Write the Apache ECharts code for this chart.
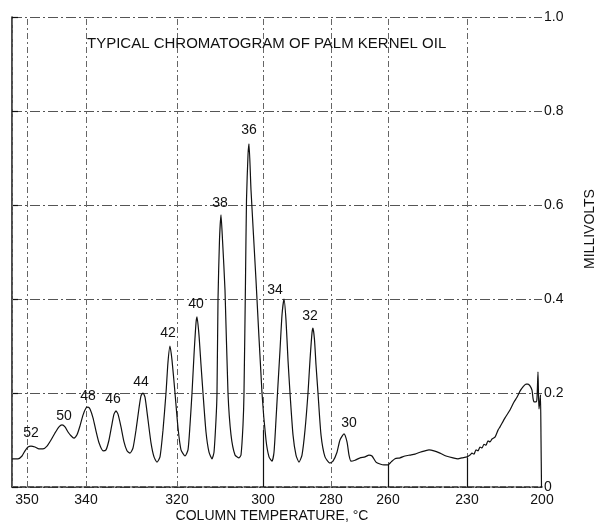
<!DOCTYPE html>
<html>
<head>
<meta charset="utf-8">
<script src="https://cdn.jsdelivr.net/npm/echarts@6/dist/echarts.min.js"></script>
<style>html,body{margin:0;padding:0;background:#fff}#c{width:596px;height:523px}</style>
</head>
<body>
<div id="c"></div>
<script>
// Chart distance (recorder trace position) of each column-temperature mark
const tempLabels = ['350', '340', '320', '300', '280', '260', '230', '200'];
const tempPositions = [15, 74, 165, 251, 319, 376, 455, 530];

// Millivolt tick labels
const yTickLabels = ['0', '0.2', '0.4', '0.6', '0.8', '1.0'];

// Detector trace: [chart distance, millivolts]
const trace = [
  [0,0.060],[6,0.060],[10,0.066],[13,0.077],[16,0.085],[19,0.087],[23,0.085],[27,0.081],[31,0.081],
  [35,0.087],[39,0.100],[43,0.115],[47,0.128],[50,0.132],[53,0.128],[56,0.117],[59,0.109],[62,0.104],
  [65,0.111],[68,0.130],[71,0.153],[74,0.168],[76,0.170],[78,0.166],[81,0.147],[84,0.119],[87,0.094],
  [91,0.077],[94,0.079],[97,0.100],[100,0.134],[102,0.155],[104,0.162],[106,0.155],[109,0.128],[112,0.096],
  [115,0.077],[118,0.072],[121,0.083],[124,0.121],[127,0.168],[129,0.194],[131,0.200],[133,0.191],[136,0.143],
  [139,0.094],[142,0.064],[145,0.053],[148,0.064],[151,0.121],[154,0.200],[156,0.266],[158,0.300],[160,0.270],
  [163,0.200],[166,0.126],[169,0.079],[173,0.066],[176,0.079],[178,0.132],[180,0.200],[182,0.281],[184,0.349],
  [185,0.362],[187,0.323],[189,0.260],[191,0.200],[194,0.117],[197,0.074],[200,0.060],[202,0.074],[204,0.143],
  [205,0.200],[206,0.398],[207.5,0.526],[209,0.579],[210.5,0.526],[213,0.419],[216,0.200],[219,0.111],[223,0.068],
  [227,0.062],[229,0.068],[231,0.132],[232,0.200],[233.5,0.440],[234.5,0.611],[236,0.706],[237,0.730],[239,0.632],
  [244,0.440],[250,0.200],[254,0.100],[257,0.064],[260,0.055],[262,0.074],[264,0.143],[265.5,0.200],[268,0.291],
  [270,0.366],[272,0.400],[274,0.355],[276,0.270],[278,0.200],[281,0.111],[284,0.068],[287,0.053],[290,0.068],
  [293,0.121],[296,0.200],[298,0.270],[300,0.328],[301,0.338],[302.5,0.313],[304,0.260],[306,0.200],[309,0.111],
  [313,0.064],[318,0.051],[321,0.055],[325,0.074],[328,0.100],[332,0.113],[335,0.096],[337,0.068],[339,0.055],
  [343,0.057],[348,0.062],[353,0.064],[357,0.068],[360,0.066],[364,0.053],[368,0.049],[372,0.047],[376,0.047],
  [379,0.053],[383,0.060],[388,0.062],[393,0.066],[398,0.068],[403,0.070],[408,0.074],[413,0.077],[417,0.079],
  [422,0.077],[428,0.072],[434,0.066],[441,0.062],[446,0.060],[450,0.062],[455,0.064],[458,0.068],[460,0.072],
  [462,0.070],[464,0.079],[466,0.077],[468,0.085],[470,0.083],[472,0.091],[474,0.089],[476,0.098],[478,0.096],
  [480,0.102],[483,0.106],[486,0.121],[488,0.128],[493,0.147],[498,0.164],[502,0.181],[505,0.191],[508,0.204],
  [511,0.213],[514,0.219],[516,0.219],[518,0.215],[520,0.206],[521,0.189],[522,0.181],[524,0.181],[525,0.189],
  [526,0.245],[526.5,0.196],[527,0.166],[528,0.185],[528.5,0.196],[529,0.104],[529.5,0]
];

// Peaks: carbon number, apex position, apex height
const peakNames = ['52', '50', '48', '46', '44', '42', '40', '38', '36', '34', '32', '30'];
const peakPos = [19, 50, 76, 104, 131, 158, 185, 209, 237, 272, 301, 332];
const peakHeight = [0.087, 0.132, 0.170, 0.162, 0.200, 0.300, 0.362, 0.579, 0.730, 0.400, 0.338, 0.113];

// Temperature event marks on the trace: position and height of mark
const eventPos = [251, 376, 455];
const eventTop = [0.121, 0.047, 0.062];

// label placement (styling, not data)
const labelOffsets = [[0,-13],[2,-9],[0,-11],[-3,-12],[-2,-11],[-2,-13],[-1,-13],[-1,-12],[0,-14],[-9,-9],[-3,-12],[5,-11]];

const FONT = 'Liberation Sans';
const INK = '#111';

const chart = echarts.init(document.getElementById('c'), null, {renderer: 'canvas'});

const gridLineStyle = {color: '#555', width: 1, type: [10, 3, 2, 3]};

const option = {
  animation: false,
  backgroundColor: '#fff',
  title: {
    text: 'TYPICAL CHROMATOGRAM OF PALM KERNEL OIL',
    left: 82, top: 31,
    textStyle: {fontSize: 15, fontWeight: 'normal', color: INK, fontFamily: FONT}
  },
  grid: {left: 12, right: 54, top: 17, bottom: 36},
  xAxis: {
    type: 'value', min: 0, max: 530,
    axisLine: {show: true, lineStyle: {color: '#222', width: 1.5, type: [6, 2]}},
    axisTick: {show: false},
    splitLine: {show: false},
    axisLabel: {
      customValues: tempPositions,
      margin: 6,
      fontSize: 14, color: INK, fontFamily: FONT,
      formatter: v => { const i = tempPositions.indexOf(v); return i >= 0 ? tempLabels[i] : ''; }
    }
  },
  yAxis: {
    type: 'value', position: 'right', min: 0, max: 1, interval: 0.2,
    axisLine: {show: true, lineStyle: {color: INK, width: 1.5}},
    axisTick: {show: true, length: 6, lineStyle: {color: INK, width: 1.2}},
    splitLine: {show: true, lineStyle: gridLineStyle},
    axisLabel: {
      margin: 2, fontSize: 14, color: INK, fontFamily: FONT,
      formatter: v => yTickLabels[Math.round(v / 0.2)]
    }
  },
  graphic: [
    {type: 'text', x: 590, y: 229, rotation: Math.PI / 2,
     style: {text: 'MILLIVOLTS', fontSize: 14, fontFamily: FONT, fill: INK, align: 'center', verticalAlign: 'middle'}},
    {type: 'text', x: 272, y: 516,
     style: {text: 'COLUMN TEMPERATURE, °C', fontSize: 14, fontFamily: FONT, fill: INK, align: 'center', verticalAlign: 'middle'}}
  ],
  series: [
    {
      type: 'line',
      data: trace,
      symbol: 'none',
      smooth: 0.2,
      lineStyle: {color: INK, width: 1.2},
      z: 5,
      markLine: {
        silent: true, symbol: 'none', label: {show: false},
        lineStyle: {color: '#666', width: 1, type: [6, 3, 2, 3]},
        data: [0].concat(tempPositions.slice(0, tempPositions.length - 1)).map(p => ({xAxis: p}))
      }
    },
    {
      type: 'line',
      data: [],
      markLine: {
        silent: true, symbol: 'none', label: {show: false},
        lineStyle: {color: INK, width: 1.2, type: 'solid'},
        data: eventPos.map((p, i) => [{coord: [p, 0]}, {coord: [p, eventTop[i]]}])
      }
    },
    {
      type: 'scatter',
      symbolSize: 0,
      z: 6,
      itemStyle: {opacity: 1},
      data: peakNames.map((n, i) => ({
        value: [peakPos[i], peakHeight[i]], name: n,
        label: {offset: labelOffsets[i]}
      })),
      label: {
        show: true, position: 'inside', formatter: p => p.name,
        fontSize: 14, color: INK, opacity: 1, fontFamily: FONT
      }
    }
  ]
};
chart.setOption(option);
</script>
</body>
</html>
